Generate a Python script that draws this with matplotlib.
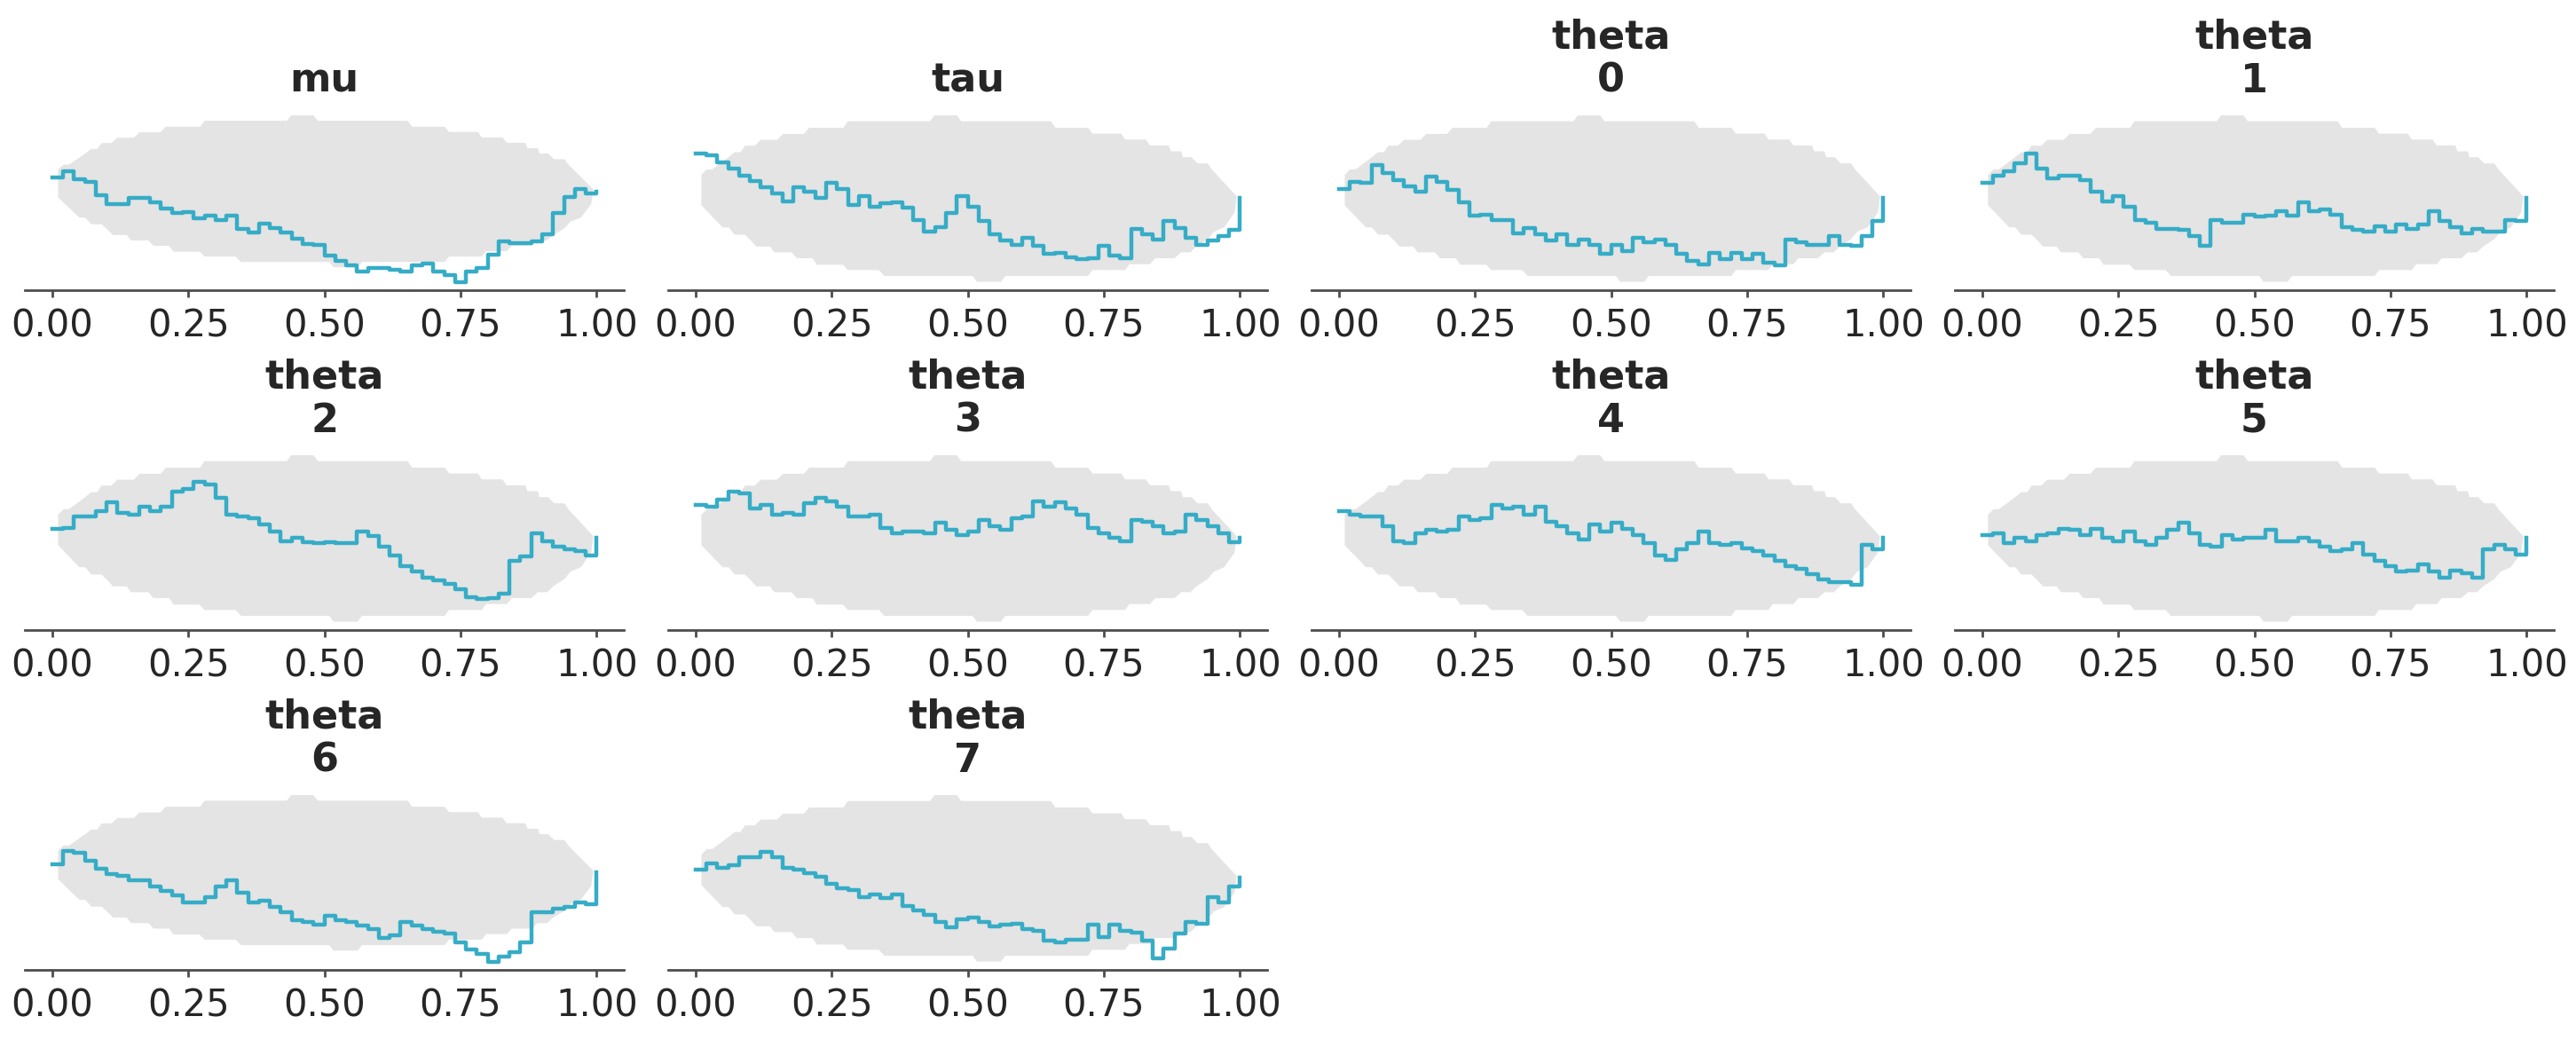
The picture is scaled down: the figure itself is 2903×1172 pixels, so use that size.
import matplotlib.pyplot as plt
import numpy as np

# evaluation grid of the ECDF difference (x = PIT value)
grid = np.linspace(0, 1, 51)

titles = ["mu", "tau", "theta\n0", "theta\n1", "theta\n2", "theta\n3",
          "theta\n4", "theta\n5", "theta\n6", "theta\n7"]

# ECDF - uniform
mu = [0.018, 0.026, 0.016, 0.012, -0.005, -0.017, -0.017, -0.009, -0.009, -0.015,
      -0.023, -0.029, -0.027, -0.036, -0.032, -0.038, -0.032, -0.050, -0.054, -0.042,
      -0.048, -0.054, -0.062, -0.069, -0.071, -0.085, -0.091, -0.097, -0.105, -0.101,
      -0.101, -0.103, -0.106, -0.097, -0.095, -0.105, -0.110, -0.119, -0.106, -0.101,
      -0.083, -0.066, -0.068, -0.068, -0.066, -0.056, -0.029, -0.007, 0.003, -0.003,
      0.000]
tau = [0.054, 0.052, 0.043, 0.036, 0.027, 0.021, 0.014, 0.006, -0.003, 0.014,
       0.008, 0.001, 0.019, 0.012, -0.008, 0.003, -0.010, -0.006, -0.004, -0.011,
       -0.026, -0.040, -0.034, -0.017, 0.003, -0.010, -0.027, -0.043, -0.050, -0.056,
       -0.047, -0.057, -0.066, -0.065, -0.070, -0.073, -0.072, -0.057, -0.068, -0.072,
       -0.036, -0.043, -0.049, -0.027, -0.035, -0.047, -0.056, -0.050, -0.045, -0.038,
       0.001]
theta0 = [0.012, 0.020, 0.019, 0.040, 0.031, 0.022, 0.015, 0.008, 0.026, 0.020,
          0.010, -0.004, -0.020, -0.019, -0.026, -0.026, -0.042, -0.035, -0.043, -0.050,
          -0.043, -0.056, -0.049, -0.056, -0.066, -0.056, -0.063, -0.047, -0.052, -0.049,
          -0.056, -0.066, -0.075, -0.079, -0.065, -0.073, -0.065, -0.073, -0.066, -0.077,
          -0.080, -0.049, -0.052, -0.056, -0.056, -0.045, -0.056, -0.057, -0.045, -0.027,
          0.001]
theta1 = [0.019, 0.027, 0.033, 0.042, 0.054, 0.036, 0.024, 0.027, 0.027, 0.022,
          0.008, -0.003, 0.003, -0.010, -0.026, -0.029, -0.036, -0.036, -0.038, -0.045,
          -0.057, -0.026, -0.029, -0.029, -0.019, -0.022, -0.020, -0.015, -0.020, -0.004,
          -0.015, -0.013, -0.019, -0.034, -0.038, -0.040, -0.033, -0.040, -0.031, -0.036,
          -0.031, -0.015, -0.027, -0.034, -0.042, -0.036, -0.040, -0.040, -0.026, -0.027,
          0.001]
theta2 = [0.012, 0.013, 0.026, 0.026, 0.033, 0.043, 0.031, 0.029, 0.038, 0.033,
          0.038, 0.056, 0.059, 0.068, 0.065, 0.049, 0.029, 0.026, 0.024, 0.017,
          0.008, -0.003, 0.001, -0.004, -0.006, -0.004, -0.006, -0.006, 0.008, 0.003,
          -0.010, -0.020, -0.033, -0.040, -0.047, -0.050, -0.054, -0.061, -0.070, -0.073,
          -0.072, -0.066, -0.027, -0.022, 0.006, -0.003, -0.010, -0.013, -0.015, -0.020,
          0.001]
theta3 = [0.040, 0.038, 0.047, 0.056, 0.054, 0.036, 0.040, 0.029, 0.031, 0.029,
          0.042, 0.049, 0.045, 0.038, 0.027, 0.026, 0.029, 0.013, 0.006, 0.008,
          0.008, 0.006, 0.019, 0.010, 0.004, 0.008, 0.022, 0.015, 0.010, 0.024,
          0.027, 0.045, 0.038, 0.043, 0.036, 0.029, 0.013, 0.006, 0.001, -0.003,
          0.022, 0.020, 0.015, 0.006, 0.008, 0.029, 0.022, 0.015, 0.006, -0.004,
          0.001]
theta4 = [0.033, 0.029, 0.026, 0.027, 0.015, -0.003, -0.006, 0.006, 0.010, 0.008,
          0.010, 0.026, 0.022, 0.024, 0.040, 0.036, 0.038, 0.029, 0.038, 0.020,
          0.015, 0.006, -0.001, 0.017, 0.008, 0.019, 0.012, 0.004, -0.006, -0.020,
          -0.026, -0.013, -0.006, 0.008, -0.006, -0.008, -0.006, -0.012, -0.015, -0.020,
          -0.027, -0.033, -0.036, -0.043, -0.049, -0.052, -0.052, -0.056, -0.008, -0.013,
          0.001]
theta5 = [0.004, 0.006, -0.006, 0.001, -0.003, 0.004, 0.006, 0.012, 0.010, 0.004,
          0.012, 0.001, -0.003, 0.008, -0.003, -0.008, 0.001, 0.010, 0.019, 0.006,
          -0.008, -0.010, 0.004, -0.001, 0.001, 0.001, 0.010, -0.003, -0.003, 0.001,
          -0.003, -0.010, -0.015, -0.013, -0.006, -0.019, -0.027, -0.033, -0.040, -0.038,
          -0.031, -0.040, -0.047, -0.038, -0.042, -0.047, -0.013, -0.008, -0.013, -0.019,
          0.001]
theta6 = [0.011, 0.028, 0.026, 0.016, 0.005, -0.002, -0.004, -0.010, -0.010, -0.018,
          -0.023, -0.029, -0.038, -0.038, -0.031, -0.018, -0.010, -0.025, -0.038, -0.036,
          -0.044, -0.051, -0.061, -0.063, -0.066, -0.055, -0.061, -0.063, -0.068, -0.072,
          -0.084, -0.080, -0.063, -0.068, -0.072, -0.076, -0.078, -0.089, -0.099, -0.104,
          -0.114, -0.108, -0.102, -0.089, -0.050, -0.050, -0.046, -0.044, -0.038, -0.040,
          0.001]
theta7 = [0.011, 0.018, 0.013, 0.016, 0.025, 0.025, 0.032, 0.025, 0.013, 0.011,
          0.006, 0.002, -0.007, -0.012, -0.014, -0.022, -0.019, -0.024, -0.019, -0.033,
          -0.038, -0.044, -0.052, -0.059, -0.049, -0.047, -0.052, -0.058, -0.056, -0.054,
          -0.061, -0.063, -0.075, -0.077, -0.074, -0.074, -0.056, -0.070, -0.056, -0.063,
          -0.065, -0.075, -0.096, -0.084, -0.066, -0.052, -0.054, -0.022, -0.029, -0.010,
          0.001]
series = [mu, tau, theta0, theta1, theta2, theta3, theta4, theta5, theta6, theta7]

# simultaneous confidence envelope (upper and lower edges)
upper_x = [0.011, 0.021, 0.031, 0.048, 0.061, 0.072, 0.083, 0.091, 0.109, 0.120,
           0.150, 0.161, 0.199, 0.209, 0.272, 0.280, 0.431, 0.439, 0.480, 0.488,
           0.653, 0.661, 0.721, 0.729, 0.782, 0.789, 0.827, 0.835, 0.869, 0.873,
           0.892, 0.895, 0.911, 0.922, 0.941, 0.948, 0.994]
upper_y = [0.0286, 0.0352, 0.0352, 0.0434, 0.0498, 0.0557, 0.0557, 0.0636, 0.0636, 0.0706,
           0.0706, 0.0777, 0.0777, 0.0851, 0.0851, 0.0929, 0.0929, 0.1000, 0.1000, 0.0929,
           0.0929, 0.0851, 0.0851, 0.0781, 0.0781, 0.0710, 0.0710, 0.0639, 0.0639, 0.0568,
           0.0568, 0.0497, 0.0497, 0.0423, 0.0423, 0.0352, 0.0027]
lower_x = [0.011, 0.050, 0.061, 0.072, 0.091, 0.102, 0.112, 0.137, 0.145, 0.177,
           0.186, 0.215, 0.223, 0.271, 0.280, 0.337, 0.347, 0.509, 0.517, 0.561,
           0.569, 0.721, 0.729, 0.789, 0.797, 0.835, 0.844, 0.880, 0.892, 0.909,
           0.920, 0.941, 0.952, 0.971, 0.990]
lower_y = [-0.0080, -0.0345, -0.0345, -0.0433, -0.0433, -0.0504, -0.0575, -0.0575, -0.0645, -0.0645,
           -0.0716, -0.0716, -0.0794, -0.0794, -0.0858, -0.0858, -0.0929, -0.0929, -0.0999, -0.0999,
           -0.0929, -0.0929, -0.0858, -0.0858, -0.0787, -0.0787, -0.0716, -0.0716, -0.0645, -0.0645,
           -0.0575, -0.0486, -0.0398, -0.0345, -0.0168]

xticks = [0, 0.25, 0.5, 0.75, 1.0]

line_color = "#36acc6"
band_color = "#e4e4e4"
text_color = "#262626"

plt.rcParams["font.family"] = ["DejaVu Sans"]

fig, axes = plt.subplots(3, 4, figsize=(14.515, 5.86), dpi=200)
fig.subplots_adjust(left=0.00965, right=0.9914, top=0.8971, bottom=0.0674,
                    wspace=0.074, hspace=0.856)
axes = axes.ravel()

env_x = upper_x + lower_x[::-1]
env_y = upper_y + lower_y[::-1]

for ax, title, vals in zip(axes, titles, series):
    ax.fill(env_x, env_y, color=band_color, lw=0)
    ax.plot(grid, vals, drawstyle="steps-post", color=line_color, lw=1.6)
    ax.set_title(title, fontsize=16, fontweight="bold", color=text_color)
    ax.set_yticks([])
    ax.set_xticks(xticks)
    ax.set_xticklabels([f"{t:.2f}" for t in xticks])
    ax.tick_params(axis="x", labelsize=15, length=3, width=1, pad=4,
                   colors="#4d4d4d", labelcolor=text_color)
    for side in ["left", "top", "right"]:
        ax.spines[side].set_visible(False)
    ax.spines["bottom"].set_color("#4d4d4d")
    ax.spines["bottom"].set_linewidth(1)

for ax in axes[len(series):]:
    ax.remove()

fig.savefig("out.png", dpi=200)
